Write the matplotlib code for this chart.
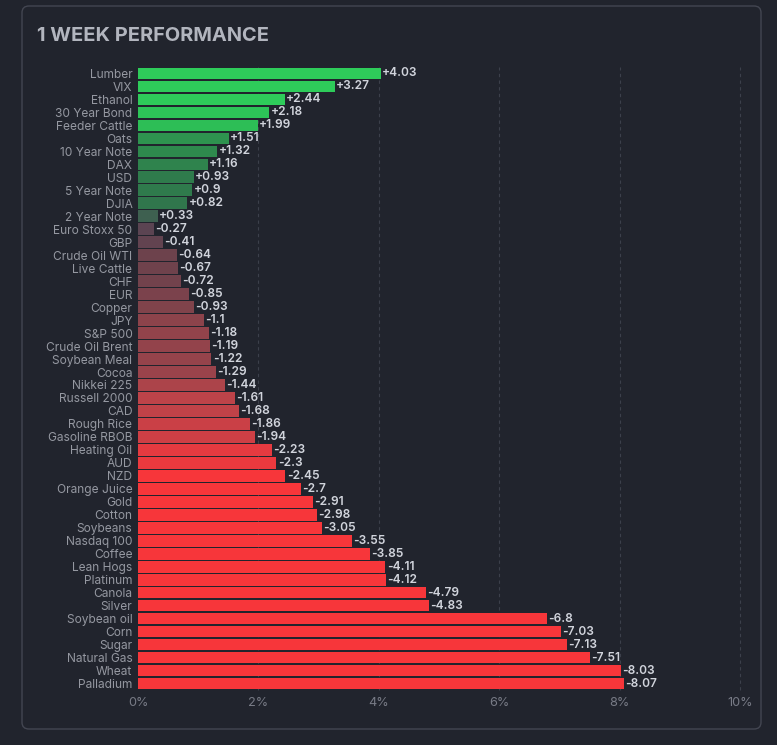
import matplotlib.pyplot as plt
from matplotlib.patches import FancyBboxPatch
from matplotlib.colors import LinearSegmentedColormap

names = ['Lumber', 'VIX', 'Ethanol', '30 Year Bond', 'Feeder Cattle', 'Oats',
         '10 Year Note', 'DAX', 'USD', '5 Year Note', 'DJIA', '2 Year Note',
         'Euro Stoxx 50', 'GBP', 'Crude Oil WTI', 'Live Cattle', 'CHF', 'EUR',
         'Copper', 'JPY', 'S&P 500', 'Crude Oil Brent', 'Soybean Meal', 'Cocoa',
         'Nikkei 225', 'Russell 2000', 'CAD', 'Rough Rice', 'Gasoline RBOB',
         'Heating Oil', 'AUD', 'NZD', 'Orange Juice', 'Gold', 'Cotton', 'Soybeans',
         'Nasdaq 100', 'Coffee', 'Lean Hogs', 'Platinum', 'Canola', 'Silver',
         'Soybean oil', 'Corn', 'Sugar', 'Natural Gas', 'Wheat', 'Palladium']
changes = [4.03, 3.27, 2.44, 2.18, 1.99, 1.51, 1.32, 1.16, 0.93, 0.9, 0.82, 0.33,
           -0.27, -0.41, -0.64, -0.67, -0.72, -0.85, -0.93, -1.1, -1.18, -1.19,
           -1.22, -1.29, -1.44, -1.61, -1.68, -1.86, -1.94, -2.23, -2.3, -2.45,
           -2.7, -2.91, -2.98, -3.05, -3.55, -3.85, -4.11, -4.12, -4.79, -4.83,
           -6.8, -7.03, -7.13, -7.51, -8.03, -8.07]
xticks = [0, 2, 4, 6, 8, 10]

bg = '#21242d'
greens = LinearSegmentedColormap.from_list('g', [
    (0.0, '#425a50'), (0.12, '#3f5e50'), (0.35, '#2f784c'), (0.6, '#2e8f4e'),
    (0.8, '#2dbd56'), (1.0, '#2ecc5a')])
reds = LinearSegmentedColormap.from_list('r', [
    (0.0, '#574454'), (0.1, '#5a4452'), (0.27, '#6e424c'), (0.45, '#8c434b'),
    (0.55, '#9e434b'), (0.62, '#b8444a'), (0.78, '#cc4045'), (0.92, '#e63a40'),
    (1.0, '#f7363a')])


def bar_color(v):
    t = min(abs(v) / 2.45, 1.0)
    return greens(t) if v > 0 else reds(t)


fig = plt.figure(figsize=(7.77, 7.45), dpi=100, facecolor=bg)
plt.rcParams['font.family'] = ['Inter', 'DejaVu Sans']

# panel behind everything
panel = FancyBboxPatch((22 / 777, 1 - 729 / 745), 739 / 777, 723 / 745,
                       boxstyle='round,pad=0,rounding_size=0.009',
                       transform=fig.transFigure, facecolor=bg,
                       edgecolor='#434651', linewidth=1.0, zorder=-5)
fig.patches.append(panel)
fig.text(37 / 777, 1 - 36 / 745, '1 WEEK PERFORMANCE', color='#b2b5be',
         fontsize=14.4, fontweight='bold', va='center', ha='left')

ax = fig.add_axes([138 / 777, 1 - 690 / 745, 602 / 777, 623 / 745])
ax.set_zorder(2)
ax.set_facecolor('none')
ypos = list(range(len(names)))
vals = [abs(v) for v in changes]
ax.barh(ypos, vals, height=0.9, color=[bar_color(v) for v in changes], zorder=3)
for y, v in zip(ypos, changes):
    lab = ('+' if v > 0 else '') + f'{v:g}'
    ax.text(abs(v) + 0.02, y, lab, color='#d1d4dc', fontsize=8.6,
            fontweight='semibold', va='center', ha='left', zorder=4)

ax.set_ylim(len(names) - 0.5, -0.5)
ax.set_xlim(0, 10)
ax.set_xticks(xticks)
ax.set_xticklabels([f'{t}%' for t in xticks])
ax.set_yticks(ypos)
ax.set_yticklabels(names)
ax.tick_params(axis='y', length=0, pad=4, labelsize=8.6, labelcolor='#9598a1')
ax.tick_params(axis='x', length=0, pad=5, labelsize=9.2, labelcolor='#787b86')
for s in ax.spines.values():
    s.set_visible(False)
for t in xticks[1:]:
    ax.axvline(t, color='#3c404b', lw=0.8, ls=(0, (3, 3)), zorder=1, clip_on=False)

fig.savefig('out.png', dpi=100, facecolor=bg)
